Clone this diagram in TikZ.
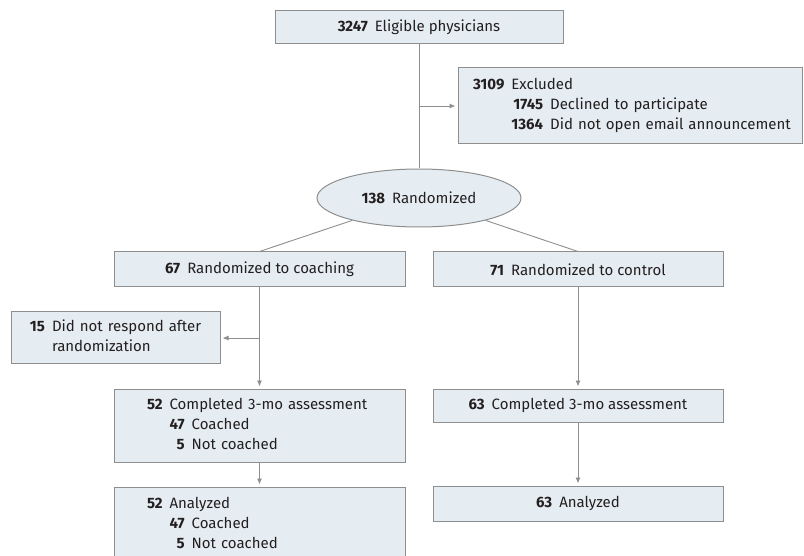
\documentclass[tikz,border=0pt]{standalone}
\usepackage{fontspec}
\setmainfont{Fira Sans}
\usetikzlibrary{arrows.meta,shapes.geometric}
\definecolor{boxfill}{HTML}{E6EDF2}
\definecolor{boxline}{HTML}{8E8E8E}
\definecolor{inktext}{HTML}{231F20}
\newcommand{\cnt}[1]{\textbf{#1}\hspace{7pt}}
\begin{document}
\begin{tikzpicture}[x=1pt, y=-1pt,
	every node/.style={font=\fontsize{15}{20}\selectfont, text=inktext},
	flowbox/.style={draw=boxline, fill=boxfill, line width=1pt, inner sep=0pt, minimum height=34pt},
	listbox/.style={flowbox, align=left},
	ovalbox/.style={ellipse, draw=boxline, fill=boxfill, line width=1pt, inner sep=0pt, minimum width=204pt, minimum height=58pt},
	link/.style={draw=boxline, line width=0.9pt},
	arrowlink/.style={link, -{Latex[length=6pt,width=5pt]}, shorten >=2pt}]
	  \useasboundingbox (0,0) rectangle (804,556);
	  % boxes
	  \node[flowbox, minimum width=288pt, minimum height=33pt] (elig) at (419,27.5) {\cnt{3247}Eligible physicians};
	  \node[listbox, text width=314pt, minimum width=344pt, minimum height=76pt] (excl) at (630,106) {\begin{tabular}{@{}r@{\hspace{7pt}}r@{\hspace{7pt}}l@{}}
	    \textbf{3109} & \multicolumn{2}{@{}l@{}}{Excluded}\\
	    & \textbf{1745} & Declined to participate\\
	    & \textbf{1364} & Did not open email announcement
	  \end{tabular}};
	  \node[ovalbox] (rand) at (419,198) {\cnt{138}Randomized};
	  \node[flowbox, minimum width=291pt, minimum height=35pt] (coach) at (259.5,269.5) {\cnt{67}Randomized to coaching};
	  \node[flowbox, minimum width=290pt, minimum height=35pt] (ctrl) at (578,269.5) {\cnt{71}Randomized to control};
	  \node[listbox, text width=171pt, minimum width=209pt, minimum height=52pt] (noresp) at (115.5,338) {\begin{tabular}{@{}r@{\hspace{7pt}}l@{}}
	    \textbf{15} & Did not respond after\\
	    & randomization
	  \end{tabular}};
	  \node[listbox, text width=225pt, minimum width=291pt, minimum height=73pt] (compA) at (259.5,425.5) {\begin{tabular}{@{}r@{\hspace{7pt}}r@{\hspace{7pt}}l@{}}
	    \textbf{52} & \multicolumn{2}{@{}l@{}}{Completed 3-mo assessment}\\
	    & \textbf{47} & Coached\\
	    & \textbf{5} & Not coached
	  \end{tabular}};
	  \node[flowbox, minimum width=290pt, minimum height=33pt] (compB) at (578,405.5) {\cnt{63}Completed 3-mo assessment};
	  \node[listbox, text width=225pt, minimum width=291pt, minimum height=74pt] (anaA) at (259.5,524) {\begin{tabular}{@{}r@{\hspace{7pt}}r@{\hspace{7pt}}l@{}}
	    \textbf{52} & \multicolumn{2}{@{}l@{}}{Analyzed}\\
	    & \textbf{47} & Coached\\
	    & \textbf{5} & Not coached
	  \end{tabular}};
	  \node[flowbox, minimum width=290pt, minimum height=35pt] (anaB) at (578,503.5) {\cnt{63}Analyzed};
	  % connectors
	  \draw[link] (elig) -- (rand);
	  \draw[arrowlink] (elig.south |- excl.west) -- (excl.west);
	  \draw[link] (rand) -- (coach.north);
	  \draw[link] (rand) -- (ctrl.north);
	  \draw[arrowlink] (coach) -- (compA);
	  \draw[arrowlink] (coach.south |- noresp.east) -- (noresp.east);
	  \draw[arrowlink] (compA) -- (anaA);
	  \draw[arrowlink] (ctrl) -- (compB);
	  \draw[arrowlink] (compB) -- (anaB);
	\end{tikzpicture}
\end{document}
